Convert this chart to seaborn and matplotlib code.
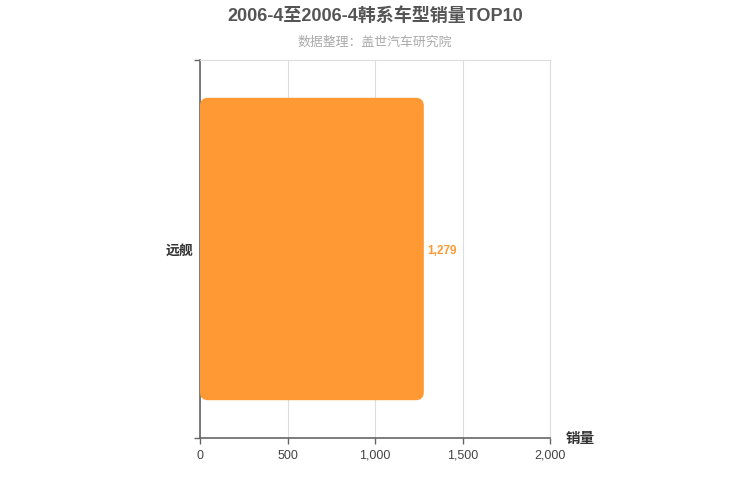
import matplotlib
matplotlib.use("Agg")
import matplotlib.pyplot as plt
import seaborn as sns
import pandas as pd
from matplotlib.patches import FancyBboxPatch
from matplotlib.ticker import FuncFormatter

models = ["远舰"]
sales = [1279]
x_ticks = [0, 500, 1000, 1500, 2000]

sns.set_style("white")
plt.rcParams['font.family'] = ['Liberation Sans', 'Noto Sans CJK SC', 'DejaVu Sans']

df = pd.DataFrame({"model": models, "sales": sales})

fig = plt.figure(figsize=(7.5, 5), dpi=100)
ax = fig.add_axes([200 / 750, 62 / 500, 350 / 750, 378 / 500])

sns.barplot(data=df, x="sales", y="model", orient="h", color="#ff9933",
            width=0.8, ax=ax, saturation=1)

# swap plain bars for rounded ones
for p in list(ax.patches):
    x0, y0 = p.get_x(), p.get_y()
    w, h = p.get_width(), p.get_height()
    r = 46
    aspect = (h / 303 * 8) / r
    rb = FancyBboxPatch((x0, y0), w, h,
                        boxstyle=f"round,pad=0,rounding_size={r}",
                        mutation_aspect=aspect,
                        facecolor="#ff9933", edgecolor="none", zorder=3)
    p.remove()
    ax.add_patch(rb)

ax.set_xlim(0, 2000)
ax.set_ylim(0.5, -0.5)
ax.set_xticks(x_ticks)
ax.xaxis.set_major_formatter(FuncFormatter(lambda v, _: f"{int(v):,}"))
ax.grid(axis="x", color="#dddddd", linewidth=0.8, zorder=0)
ax.set_axisbelow(True)

for s in ["top", "right"]:
    ax.spines[s].set_color("#dddddd")
    ax.spines[s].set_linewidth(0.8)
for s in ["left", "bottom"]:
    ax.spines[s].set_color("#666666")
    ax.spines[s].set_linewidth(1.2)

ax.tick_params(axis="x", bottom=True, colors="#666666", labelcolor="#444444",
               labelsize=9, length=4, width=1, direction="out", pad=4.5)
ax.tick_params(axis="y", which="major", left=False, length=0, labelsize=10,
               labelcolor="#333333", pad=5)
ax.set_yticks([-0.5, 0.5], minor=True)
ax.tick_params(axis="y", which="minor", left=True, length=4, width=1,
               color="#666666", direction="out")
for lbl in ax.get_yticklabels():
    lbl.set_fontweight("bold")

ax.set_xlabel("")
ax.set_ylabel("")

for i, v in enumerate(sales):
    ax.text(v + 20, i + 0.005, f"{v:,}", va="center", ha="left", fontsize=8.5,
            color="#ff9933", fontweight="bold")

ax.text(1.045, -0.003, "销量", transform=ax.transAxes, ha="left", va="center",
        fontsize=10.5, color="#333333", fontweight="bold")

fig.text(0.5, 0.968, "2006-4至2006-4韩系车型销量TOP10", ha="center", va="center",
         fontsize=13, fontweight="bold", color="#555555")
fig.text(0.5, 0.916, "数据整理：盖世汽车研究院", ha="center", va="center",
         fontsize=9.3, color="#aaaaaa")

fig.savefig("out.png", dpi=100)
